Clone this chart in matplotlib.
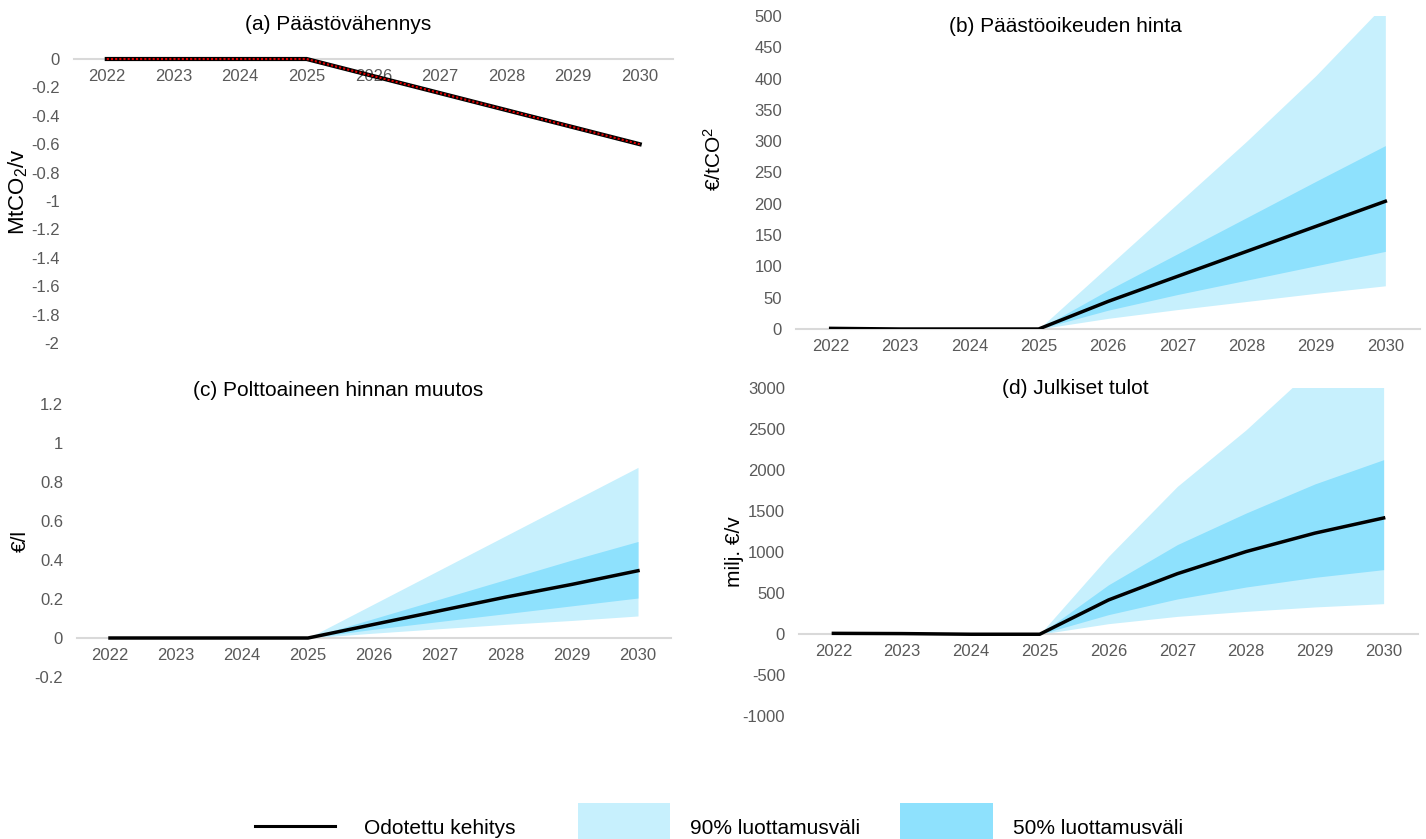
import numpy as np
import matplotlib
matplotlib.use('Agg')
import matplotlib.pyplot as plt
from matplotlib.lines import Line2D
from matplotlib.patches import Rectangle

plt.rcParams['font.family'] = ['Liberation Sans', 'DejaVu Sans']
plt.rcParams['mathtext.fontset'] = 'custom'
plt.rcParams['mathtext.rm'] = 'Liberation Sans'
plt.rcParams['mathtext.it'] = 'Liberation Sans:italic'

years = ['2022', '2023', '2024', '2025', '2026', '2027', '2028', '2029', '2030']
nan = np.nan

# (a) emission reduction, MtCO2/v
a_median = [0, 0, 0, 0, -0.12, -0.24, -0.36, -0.48, -0.60]

# (b) allowance price, EUR/tCO2
b_median = [1, 0, 0, 0, 44, 84, 124, 164, 204]
b_lo90 = [nan, nan, nan, 0, 17, 31, 44, 57, 69]
b_lo50 = [nan, nan, nan, 0, 30, 55, 78, 101, 124]
b_hi50 = [nan, nan, nan, 0, 62, 120, 178, 236, 293]
b_hi90 = [nan, nan, nan, 0, 100, 200, 300, 405, 520]

# (c) fuel price change, EUR/l
c_median = [0, 0, 0, 0, 0.07, 0.14, 0.21, 0.275, 0.345]
c_lo90 = [nan, nan, nan, 0, 0.025, 0.048, 0.07, 0.09, 0.113]
c_lo50 = [nan, nan, nan, 0, 0.045, 0.085, 0.125, 0.165, 0.205]
c_hi50 = [nan, nan, nan, 0, 0.10, 0.20, 0.30, 0.40, 0.495]
c_hi90 = [nan, nan, nan, 0, 0.175, 0.35, 0.525, 0.70, 0.875]

# (d) public revenue, milj. EUR/v
d_median = [8, 5, -3, -3, 415, 735, 1005, 1230, 1415]
d_lo90 = [nan, nan, nan, -3, 126, 215, 276, 330, 370]
d_lo50 = [nan, nan, nan, -3, 236, 427, 573, 691, 785]
d_hi50 = [nan, nan, nan, -3, 600, 1090, 1475, 1830, 2126]
d_hi90 = [nan, nan, nan, -3, 947, 1800, 2490, 3260, 3600]

light = '#c7f0fd'
dark = '#8ee1fd'
grey = '#d9d9d9'
txt = '#595959'

W, H = 1426, 839
fig = plt.figure(figsize=(W / 100, H / 100), dpi=100)


def make_ax(x0, x1, ytop, ybot, ylim, yticks, yfmt):
    ax = fig.add_axes([x0 / W, 1 - ybot / H, (x1 - x0) / W, (ybot - ytop) / H])
    x = np.arange(len(years))
    ax.set_xlim(-0.5, len(years) - 0.5)
    ax.set_ylim(*ylim)
    for s in ['top', 'right', 'left']:
        ax.spines[s].set_visible(False)
    ax.spines['bottom'].set_position(('data', 0))
    ax.spines['bottom'].set_color(grey)
    ax.spines['bottom'].set_linewidth(1.5)
    ax.set_xticks(x)
    ax.set_xticklabels(years)
    ax.set_yticks(yticks)
    ax.set_yticklabels([yfmt(v) for v in yticks])
    ax.tick_params(length=0, labelsize=12, colors=txt)
    ax.tick_params(axis='x', pad=7)
    ax.tick_params(axis='y', pad=10)
    return ax, x


def fan(ax, x, lo90, lo50, med, hi50, hi90):
    ax.fill_between(x, lo90, hi90, color=light, lw=0)
    ax.fill_between(x, lo50, hi50, color=dark, lw=0)
    ax.plot(x, med, color='black', lw=2.5, zorder=3)


def fmt_g(v):
    s = ('%.1f' % v).rstrip('0').rstrip('.')
    return '0' if s in ('-0', '0') else s


# (a)
ax, x = make_ax(73.5, 673, 59, 343, (-2, 0), np.arange(-2, 0.01, 0.2), fmt_g)
ax.plot(x, a_median, color='black', lw=3, zorder=3, clip_on=False)
ax.plot(x, a_median, color='#e00000', lw=1.5, ls=(0, (1, 1)), zorder=4, clip_on=False)

# (b)
ax, x = make_ax(796, 1420, 16, 329, (0, 500), np.arange(0, 501, 50), lambda v: '%d' % v)
fan(ax, x, b_lo90, b_lo50, b_median, b_hi50, b_hi90)

# (c)
ax, x = make_ax(77, 671, 404, 677, (-0.2, 1.2), np.arange(-0.2, 1.21, 0.2), fmt_g)
fan(ax, x, c_lo90, c_lo50, c_median, c_hi50, c_hi90)

# (d)
ax, x = make_ax(799, 1418, 388, 716, (-1000, 3000), np.arange(-1000, 3001, 500), lambda v: '%d' % v)
fan(ax, x, d_lo90, d_lo50, d_median, d_hi50, d_hi90)

# titles
fig.text(338 / W, 1 - 25 / H, '(a) Päästövähennys', ha='center', va='center', fontsize=15)
fig.text(1065 / W, 1 - 26 / H, '(b) Päästöoikeuden hinta', ha='center', va='center', fontsize=15)
fig.text(338 / W, 1 - 391 / H, '(c) Polttoaineen hinnan muutos', ha='center', va='center', fontsize=15)
fig.text(1075 / W, 1 - 389 / H, '(d) Julkiset tulot', ha='center', va='center', fontsize=15)

# y labels
fig.text(18 / W, 1 - 192 / H, 'MtCO$_2$/v', rotation=90, ha='center', va='center', fontsize=16)
fig.text(714 / W, 1 - 159 / H, '€/tCO$^2$', rotation=90, ha='center', va='center', fontsize=15)
fig.text(20 / W, 1 - 541 / H, '€/l', rotation=90, ha='center', va='center', fontsize=15)
fig.text(735 / W, 1 - 552 / H, 'milj. €/v', rotation=90, ha='center', va='center', fontsize=15)

# legend
fig.add_artist(Line2D([255 / W, 335 / W], [1 - 826 / H, 1 - 826 / H], color='black', lw=2.2))
fig.text(364 / W, 1 - 829 / H, 'Odotettu kehitys', ha='left', va='center', fontsize=15)
fig.add_artist(Rectangle((578 / W, 0), 92 / W, 36 / H, color=light, lw=0))
fig.text(690 / W, 1 - 829 / H, '90% luottamusväli', ha='left', va='center', fontsize=15)
fig.add_artist(Rectangle((900 / W, 0), 93 / W, 36 / H, color=dark, lw=0))
fig.text(1013 / W, 1 - 829 / H, '50% luottamusväli', ha='left', va='center', fontsize=15)

fig.savefig('out.png', dpi=100)
